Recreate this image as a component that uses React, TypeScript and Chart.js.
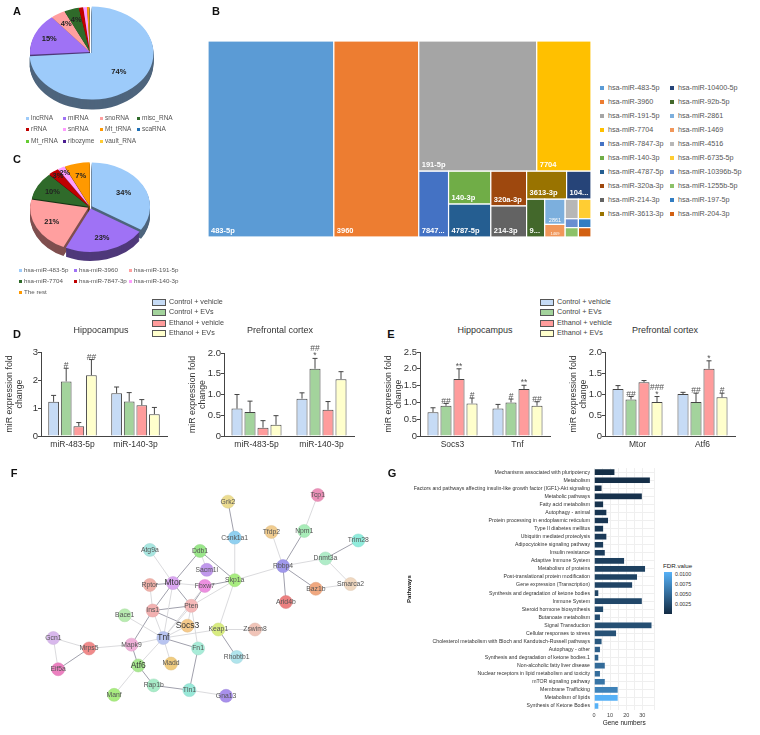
import React, { useEffect, useRef } from "react";
import { Chart, registerables } from "chart.js";
Chart.register(...registerables);

const FONT = "'Liberation Sans', Arial, sans-serif";

// ---- Panel A ----
const rnaTypes = ["lncRNA","miRNA","snoRNA","misc_RNA","rRNA","snRNA","Mt_tRNA","scaRNA","Mt_rRNA","ribozyme","vault_RNA"];
const rnaShares = [74,15,4,4,1.2,1,0.6,0.05,0.05,0.05,0.05];
const rnaColors = ["#9DCBFA","#9F72F5","#FF9F9F","#2F6A2A","#C00000","#FF9CFF","#FF9900","#1F6FB4","#66CC33","#4B1D91","#FFCC33"];
const rnaOffsets = [8,0,0,0,0,0,0,0,0,0,0];
// ---- Panel C ----
const mirTop = ["hsa-miR-483-5p","hsa-miR-3960","hsa-miR-191-5p","hsa-miR-7704","hsa-miR-7847-3p","hsa-miR-140-3p","The rest"];
const mirTopShares = [34,23,21,10,3,2,7];
const mirTopColors = ["#9DCBFA","#9F72F5","#FF9F9F","#2F6A2A","#C00000","#FF9CFF","#FF9900"];
const mirTopOffsets = [8,8,8,4,4,4,4];
// ---- Panel B ----
const treeNames = ["hsa-miR-483-5p","hsa-miR-3960","hsa-miR-191-5p","hsa-miR-7704","hsa-miR-7847-3p","hsa-miR-140-3p","hsa-miR-4787-5p","hsa-miR-320a-3p","hsa-miR-214-3p","hsa-miR-3613-3p","hsa-miR-10400-5p","hsa-miR-92b-5p","hsa-miR-2861","hsa-miR-1469","hsa-miR-4516","hsa-miR-6735-5p","hsa-miR-10396b-5p","hsa-miR-1255b-5p","hsa-miR-197-5p","hsa-miR-204-3p"];
const treeShort = ["483-5p","3960","191-5p","7704","7847...","140-3p","4787-5p","320a-3p","214-3p","3613-3p","104...","9...","2861","1469","","","","","",""];
const treeValues = [220,148.4,137,63,17.5,12.4,12.4,11.1,9.9,10,6.1,6.1,4.6,2.3,2.3,2.2,1.05,1.1,1,1.05];
const treeColors = ["#5B9BD5","#ED7D31","#A5A5A5","#FFC000","#4472C4","#70AD47","#255E91","#9E480E","#636363","#997300","#264478","#43682B","#7CAFDD","#F1975A","#B7B7B7","#FFCD33","#698ED0","#8CC168","#327DC2","#D26012"];
const treeSplits: any = ["h",0,1,["v",["h",2,3],["h",4,["v",5,6],["v",7,8],["v",["h",9,10],["h",11,["v",12,13],["v",["h",14,15],["h",16,18],["h",17,19]]]]]]];
// ---- Panels D, E ----
const groupNames = ["Control + vehicle","Control + EVs","Ethanol + vehicle","Ethanol + EVs"];
const groupColors = ["#C6DBF5","#A3D39C","#FF9C9C","#FFFFCC"];
const dHipCats = ["miR-483-5p","miR-140-3p"];
const dHipMeans = [[1.22,1.53],[1.95,1.23],[0.35,1.1],[2.17,0.78]];
const dHipTops = [[1.45,1.75],[2.42,1.55],[0.48,1.3],[2.73,1.02]];
const dHipSig = [[[],[]],[["#"],[]],[[],[]],[["##"],[]]];
const dPfcCats = ["miR-483-5p","miR-140-3p"];
const dPfcMeans = [[0.66,0.9],[0.58,1.62],[0.2,0.63],[0.27,1.37]];
const dPfcTops = [[1.0,1.04],[0.84,1.87],[0.37,0.83],[0.49,1.55]];
const dPfcSig = [[[],[]],[[],["##","*"]],[[],[]],[[],[]]];
const eHipCats = ["Socs3","Tnf"];
const eHipMeans = [[0.71,0.82],[0.9,1.0],[1.7,1.4],[0.97,0.9]];
const eHipTops = [[0.84,0.94],[0.97,1.1],[2.0,1.51],[1.13,1.02]];
const eHipSig = [[[],[]],[["##"],["#"]],[["**"],["**"]],[["#"],["##"]]];
const ePfcCats = ["Mtor","Atf6"];
const ePfcMeans = [[1.12,1.0],[0.87,0.81],[1.28,1.6],[0.81,0.92]];
const ePfcTops = [[1.2,1.04],[0.94,1.02],[1.32,1.79],[0.94,1.02]];
const ePfcSig = [[[],[]],[["##"],["##"]],[[],["*"]],[["###","*"],["#"]]];
// ---- Panel F ----
const nodeNames = ["Atg9a","Ddb1","Mtor","Rptor","Ins1","Pten","Socs3","Bace1","Tnf","Fn1","Mapk9","Mrps5","Gcn1","Eif5a","Atf6","Madd","Rap1b","Tln1","Manf","Gna13","Sacm1l","Fbxw7","Skp1a","Csnk1a1","Grk2","Keap1","Zswim8","Rhobtb1","Rbbp4","Tfdp2","Npm1","Tcp1","Dnmt3a","Trim28","Smarca2","Baz1b","Arid4b"];
const nodeX = [148,200,172,148,151,191,187,122,162,198,129,85,48,53,136,170,152,189,111,227,207,205,236,236,229,219,257,238,286,274,308,322,330,364,356,320,289];
const nodeY = [547,548,582,584,611,606,627,616,640,651,647,651,640,673,669,667,690,695,700,701,568,585,579,534,496,631,631,660,564,528,527,489,556,537,583,588,602];
const nodeColors = ["#A8E6E0","#9AE68A","#D9A6F0","#F0B0A8","#F2B0B0","#F5B8B8","#F5C98A","#B8ECB0","#B8C4F0","#A8ECD8","#EFB0D8","#F08A8A","#D8B8EC","#EC80C0","#A8E890","#F0CC80","#A8ECC8","#98E8D8","#A8EC80","#A890EC","#C098EC","#EC90E0","#A8EC80","#90D0F0","#ECDC90","#D8EC80","#F0C4B8","#B0E4EC","#A098EC","#F0CC90","#A8ECB8","#EC90B8","#B0ECC8","#90ECDC","#F0D8C0","#F0A880","#EC8080"];
const bigNodes = ["Mtor","Tnf","Atf6","Socs3"];
const lightEdges = [["Atg9a","Mtor"],["Ddb1","Sacm1l"],["Mtor","Tnf"],["Mtor","Fbxw7"],["Rptor","Ins1"],["Ins1","Tnf"],["Pten","Tnf"],["Pten","Socs3"],["Pten","Skp1a"],["Pten","Fn1"],["Socs3","Tnf"],["Bace1","Tnf"],["Tnf","Mapk9"],["Tnf","Atf6"],["Tnf","Madd"],["Tnf","Keap1"],["Tnf","Fbxw7"],["Mapk9","Mrps5"],["Mrps5","Gcn1"],["Gcn1","Eif5a"],["Atf6","Manf"],["Tln1","Gna13"],["Keap1","Skp1a"],["Keap1","Zswim8"],["Skp1a","Csnk1a1"],["Skp1a","Rbbp4"],["Rbbp4","Tfdp2"],["Npm1","Tcp1"],["Rbbp4","Dnmt3a"],["Dnmt3a","Smarca2"],["Baz1b","Smarca2"]];
const darkEdges = [["Ddb1","Mtor"],["Ddb1","Skp1a"],["Mtor","Rptor"],["Mtor","Ins1"],["Mtor","Pten"],["Ins1","Pten"],["Ins1","Socs3"],["Ins1","Mapk9"],["Pten","Fbxw7"],["Tnf","Fn1"],["Mapk9","Atf6"],["Mrps5","Eif5a"],["Atf6","Rap1b"],["Rap1b","Tln1"],["Tln1","Fn1"],["Keap1","Rhobtb1"],["Skp1a","Fbxw7"],["Csnk1a1","Grk2"],["Rbbp4","Npm1"],["Dnmt3a","Trim28"],["Rbbp4","Baz1b"],["Rbbp4","Arid4b"]];
// ---- Panel G ----
const pathways = ["Mechanisms associated with pluripotency","Metabolism","Factors and pathways affecting insulin-like growth factor (IGF1)-Akt signaling","Metabolic pathways","Fatty acid metabolism","Autophagy - animal","Protein processing in endoplasmic reticulum","Type II diabetes mellitus","Ubiquitin mediated proteolysis","Adipocytokine signaling pathway","Insulin resistance","Adaptive Immune System","Metabolism of proteins","Post-translational protein modification","Gene expression (Transcription)","Synthesis and degradation of ketone bodies","Immune System","Steroid hormone biosynthesis","Butanoate metabolism","Signal Transduction","Cellular responses to stress","Cholesterol metabolism with Bloch and Kandutsch-Russell pathways","Autophagy - other","Synthesis and degradation of ketone bodies.1","Non-alcoholic fatty liver disease","Nuclear receptors in lipid metabolism and toxicity","mTOR signaling pathway","Membrane Trafficking","Metabolism of lipids","Synthesis of Ketone Bodies"];
const geneNumbers = [13,35,5,30,6,8,9,6,8,6,7,19,32,27,24,3,30,6,4,36,14,5,4,3,7,4,7,15,15,3];
const fdrValues = [0.0002,0.0003,0.0004,0.0005,0.0006,0.0008,0.0009,0.001,0.0012,0.0014,0.0015,0.0016,0.0017,0.0018,0.0019,0.002,0.0022,0.0024,0.0026,0.0028,0.003,0.0035,0.004,0.0042,0.005,0.0052,0.0058,0.0068,0.0105,0.0105];
const fdrLegendLabels = ["0.0100","0.0075","0.0050","0.0025"];

const fdrColor = (v: number) => {
  const t = Math.min(1, v / 0.0105);
  const a = [19, 43, 67], b = [86, 177, 247];
  return `rgb(${a.map((c, i) => Math.round(c + (b[i] - c) * t)).join(",")})`;
};
const darken = (hex: string, f: number) => {
  const n = parseInt(hex.slice(1), 16);
  return `rgb(${(n >> 16) * f | 0},${((n >> 8) & 255) * f | 0},${(n & 255) * f | 0})`;
};

// pie drawn as a tilted disc with a rim, using the arc elements the library laid out
const pie3d = (k: number, depth: number, ratio: (v: number) => number) => ({
  id: "pie3d",
  beforeDatasetDraw(chart: any) {
    const ctx = chart.ctx;
    const arcs = chart.getDatasetMeta(0).data;
    const cx = arcs[0].x, cy = arcs[0].y;
    const paint = (dy: number, side: boolean) => {
      ctx.save();
      ctx.translate(cx, cy + dy);
      ctx.scale(1, k);
      ctx.translate(-cx, -cy);
      arcs.forEach((a: any) => {
        const o = a.options;
        const fill = side ? darken(o.backgroundColor, 0.5) : o.backgroundColor;
        a.options = Object.create(o, { backgroundColor: { value: fill }, borderWidth: { value: 0 } });
        a.draw(ctx);
        a.options = o;
      });
      ctx.restore();
    };
    for (let d = depth; d > 0; d--) paint(d, true);
    paint(0, false);
    return false;
  },
  afterDatasetsDraw(chart: any) {
    const ctx = chart.ctx;
    const ds = chart.data.datasets[0];
    ctx.font = `bold 7.5px ${FONT}`;
    ctx.fillStyle = "#222";
    ctx.textAlign = "center";
    ctx.textBaseline = "middle";
    chart.getDatasetMeta(0).data.forEach((a: any, i: number) => {
      const v = ds.data[i];
      if (v < 2) return;
      const mid = (a.startAngle + a.endAngle) / 2;
      const r = a.outerRadius * ratio(v);
      ctx.fillText(`${Math.round(v)}%`, a.x + Math.cos(mid) * r, a.y + Math.sin(mid) * r * k);
    });
  },
});

const pieConfig = (labels: string[], data: number[], colors: string[], offsets: number[], radius: number, k: number, depth: number) => ({
  type: "pie",
  data: { labels, datasets: [{ data, backgroundColor: colors, offset: offsets, borderWidth: 0 }] },
  options: {
    responsive: false, animation: false, radius,
    plugins: { legend: { display: false }, tooltip: { enabled: false } },
  },
  plugins: [pie3d(k, depth, (v) => (v > 30 ? 0.66 : v > 3 ? 0.74 : 0.9))],
});

// treemap layout worked out from the values alone
type Rect = { i: number; x0: number; x1: number; y0: number; y1: number };
const sumNode = (n: any): number => (typeof n === "number" ? treeValues[n] : n.slice(1).reduce((s: number, c: any) => s + sumNode(c), 0));
const layoutTree = (n: any, x0: number, x1: number, y0: number, y1: number, out: Rect[]) => {
  if (typeof n === "number") { out.push({ i: n, x0, x1, y0, y1 }); return out; }
  const total = sumNode(n);
  let pos = n[0] === "h" ? x0 : y0;
  n.slice(1).forEach((c: any) => {
    const share = sumNode(c) / total;
    if (n[0] === "h") { const w = (x1 - x0) * share; layoutTree(c, pos, pos + w, y0, y1, out); pos += w; }
    else { const h = (y1 - y0) * share; layoutTree(c, x0, x1, pos, pos + h, out); pos += h; }
  });
  return out;
};
const treemapConfig = () => {
  const rects = layoutTree(treeSplits, 0, 1, 0, 1, []);
  return {
    type: "scatter",
    data: { datasets: [{ data: rects.map((r) => ({ x: r.x0, y: r.y0 })), pointRadius: 0 }] },
    options: {
      responsive: false, animation: false,
      layout: { padding: { left: 8, right: 9, top: 11, bottom: 8 } },
      scales: { x: { display: false, min: 0, max: 1 }, y: { display: false, min: 0, max: 1, reverse: true } },
      plugins: { legend: { display: false }, tooltip: { enabled: false } },
    },
    plugins: [{
      id: "treemap",
      afterDatasetsDraw(chart: any) {
        const { ctx, scales: { x, y } } = chart;
        ctx.save();
        rects.forEach((r) => {
          const px0 = x.getPixelForValue(r.x0), px1 = x.getPixelForValue(r.x1);
          const py0 = y.getPixelForValue(r.y0), py1 = y.getPixelForValue(r.y1);
          ctx.fillStyle = treeColors[r.i];
          ctx.fillRect(px0, py0, px1 - px0, py1 - py0);
          ctx.strokeStyle = "#fff";
          ctx.lineWidth = 1.2;
          ctx.strokeRect(px0, py0, px1 - px0, py1 - py0);
          const t = treeShort[r.i];
          if (!t) return;
          const small = r.i >= 12;
          ctx.font = small ? `${r.i === 13 ? 4 : 5.5}px ${FONT}` : `bold 7.5px ${FONT}`;
          ctx.fillStyle = "#fff";
          ctx.textBaseline = "alphabetic";
          ctx.textAlign = small ? "center" : "left";
          if (small) ctx.fillText(t, (px0 + px1) / 2, py1 - 2.5);
          else ctx.fillText(t, px0 + 3, py1 - 4);
        });
        ctx.restore();
      },
    }],
  };
};

const errorPlugin = (tops: number[][], sig: string[][][]) => ({
  id: "errorBars",
  afterDatasetsDraw(chart: any) {
    const { ctx, scales: { y } } = chart;
    ctx.save();
    chart.data.datasets.forEach((_: any, s: number) => {
      chart.getDatasetMeta(s).data.forEach((bar: any, i: number) => {
        const top = y.getPixelForValue(tops[s][i]);
        ctx.strokeStyle = "#444";
        ctx.lineWidth = 1;
        ctx.beginPath();
        ctx.moveTo(bar.x, bar.y);
        ctx.lineTo(bar.x, top);
        ctx.moveTo(bar.x - 2.5, top);
        ctx.lineTo(bar.x + 2.5, top);
        ctx.stroke();
        ctx.fillStyle = "#555";
        ctx.font = `8.5px ${FONT}`;
        ctx.textAlign = "center";
        ctx.textBaseline = "bottom";
        const lines = sig[s][i];
        lines.forEach((t, l) => {
          const up = lines.length - 1 - l;
          ctx.fillText(t, bar.x, top + 2 - up * 7);
        });
      });
    });
    ctx.restore();
  },
});

const barConfig = (cats: string[], means: number[][], tops: number[][], sig: any, max: number, step: number, decimals: number, axisTop: number) => ({
  type: "bar",
  data: {
    labels: cats,
    datasets: groupNames.map((label, s) => ({
      label, data: means[s], backgroundColor: groupColors[s], borderColor: "#444", borderWidth: 1,
      categoryPercentage: 0.8, barPercentage: 0.85,
    })),
  },
  options: {
    responsive: false, animation: false,
    layout: { padding: { top: axisTop, right: 4, left: 0, bottom: 0 } },
    scales: {
      x: {
        grid: { display: false, drawTicks: false }, border: { color: "#444" },
        ticks: { color: "#333", font: { size: 8.5, family: FONT }, padding: 4, maxRotation: 0 },
        afterFit: (s: any) => { s.height = 20; },
      },
      y: {
        min: 0, max,
        grid: { drawOnChartArea: false, tickLength: 3, color: "#444" }, border: { color: "#444" },
        ticks: {
          stepSize: step, color: "#333", font: { size: 9.5, family: FONT }, padding: 0,
          callback: (v: number) => (v === 0 ? "0" : v.toFixed(decimals)),
        },
        title: { display: true, text: ["miR expression fold", "change"], color: "#333", font: { size: 8.8, family: FONT, lineHeight: 1.2 }, padding: { top: 3, bottom: 0 } },
        afterFit: (s: any) => { s.width = 40; },
      },
    },
    plugins: { legend: { display: false }, tooltip: { enabled: false } },
  },
  plugins: [errorPlugin(tops, sig)],
});

const networkConfig = () => {
  const at = (name: string) => { const i = nodeNames.indexOf(name); return { x: nodeX[i], y: nodeY[i] }; };
  const edge = (e: string[], color: string, borderWidth: number) => ({
    type: "scatter", data: [at(e[0]), at(e[1])], showLine: true, pointRadius: 0, borderColor: color, borderWidth, order: 2,
  });
  return {
    type: "scatter",
    data: {
      datasets: [
        { data: nodeX.map((x, i) => ({ x, y: nodeY[i] })), pointRadius: 6.5, backgroundColor: nodeColors, borderColor: nodeColors.map((c) => darken(c, 0.93)), borderWidth: 0.5, order: 0 },
        ...lightEdges.map((e) => edge(e, "#D6D6D9", 0.9)),
        ...darkEdges.map((e) => edge(e, "#A0A0AC", 1)),
      ],
    },
    options: {
      responsive: false, animation: false,
      scales: { x: { display: false, min: 0, max: 400 }, y: { display: false, min: 470, max: 735, reverse: true } },
      plugins: { legend: { display: false }, tooltip: { enabled: false } },
    },
    plugins: [{
      id: "nodeLabels",
      afterDatasetsDraw(chart: any) {
        const ctx = chart.ctx;
        const pts = chart.getDatasetMeta(0).data;
        ctx.save();
        ctx.textAlign = "center";
        ctx.textBaseline = "middle";
        pts.forEach((p: any, i: number) => {
          const big = bigNodes.includes(nodeNames[i]);
          ctx.fillStyle = big ? "#333" : "#555";
          ctx.font = `${big ? 8.5 : 6.8}px ${FONT}`;
          ctx.fillText(nodeNames[i], p.x, p.y);
        });
        ctx.restore();
      },
    }],
  };
};

const pathwayConfig = () => ({
  type: "bar",
  data: {
    labels: pathways,
    datasets: [{ data: geneNumbers, backgroundColor: fdrValues.map(fdrColor), borderColor: "rgba(230,236,245,0.7)", borderWidth: 0.5, categoryPercentage: 1, barPercentage: 0.82 }],
  },
  options: {
    indexAxis: "y", responsive: false, animation: false,
    layout: { padding: { top: 2.5, right: 5.6, left: 0, bottom: 0 } },
    scales: {
      x: {
        min: 0, max: 37.5,
        grid: { color: "#EFEFEF", drawTicks: false }, border: { display: false },
        ticks: { stepSize: 5, color: "#444", font: { size: 5.5, family: FONT }, padding: 2, maxRotation: 0, autoSkip: false, callback: (v: number) => (v % 10 === 0 ? String(v) : "") },
        title: { display: true, text: "Gene numbers", color: "#222", font: { size: 6.5, family: FONT }, padding: 0 },
        afterFit: (s: any) => { s.height = 17; },
      },
      y: {
        grid: { color: "#EFEFEF", offset: false, drawTicks: false }, border: { display: false },
        ticks: { autoSkip: false, color: "#333", font: { size: 5.2, family: FONT }, padding: 4 },
        title: { display: true, text: "Pathways", color: "#111", font: { size: 6, weight: "bold", family: FONT }, padding: { top: 1, bottom: 0 } },
        afterFit: (s: any) => { s.width = 189; },
      },
    },
    plugins: { legend: { display: false }, tooltip: { enabled: false } },
  },
});

function Panel({ left, top, width, height, make }: any) {
  const ref = useRef<HTMLCanvasElement>(null);
  useEffect(() => {
    const chart = new Chart(ref.current as any, make());
    return () => chart.destroy();
  }, []);
  return <canvas ref={ref} width={width} height={height} style={{ position: "absolute", left, top, width, height, display: "block" }} />;
}

const Text = ({ x, y, size = 7, color = "#555", bold = false, center = false, children, family }: any) => (
  <div style={{ position: "absolute", left: x, top: y, fontSize: size, color, fontWeight: bold ? 700 : 400, lineHeight: 1, whiteSpace: "nowrap", fontFamily: family || FONT, transform: center ? "translate(-50%,-50%)" : "translateY(-50%)" }}>{children}</div>
);
const Swatch = ({ x, y, w, h, color, border }: any) => (
  <div style={{ position: "absolute", left: x, top: y - h / 2, width: w, height: h, background: color, border: border ? "1px solid #555" : undefined, boxSizing: "border-box" }} />
);
const DotLegend = ({ items, colors, xs, ys, size = 7, gap = 4, cols }: any) => (
  <>
    {items.map((t: string, i: number) => {
      const c = i % cols, r = Math.floor(i / cols);
      return (
        <React.Fragment key={t}>
          <Swatch x={xs[c] - 1.5} y={ys[r]} w={3} h={3} color={colors[i]} />
          <Text x={xs[c] + gap} y={ys[r]} size={size}>{t}</Text>
        </React.Fragment>
      );
    })}
  </>
);
const GroupLegend = ({ x }: any) => (
  <>
    {groupNames.map((t, i) => {
      const y = [302, 312, 323, 333][i];
      return (
        <React.Fragment key={t}>
          <Swatch x={x} y={y} w={14} h={7} color={groupColors[i]} border />
          <Text x={x + 17} y={y} size={7.2} color="#444">{t}</Text>
        </React.Fragment>
      );
    })}
  </>
);
const Letter = ({ x, y, children }: any) => <Text x={x} y={y} size={11} bold center color="#111">{children}</Text>;

export default function App() {
  const treeRows = treeNames.map((_, i) => 88 + (i % 10) * 14);
  return (
    <div style={{ position: "absolute", left: 0, top: 0, width: 760, height: 735, overflow: "hidden", background: "#fff", fontFamily: FONT }}>
      <Panel left={15} top={-23} width={150} height={150} make={() => pieConfig(rnaTypes, rnaShares, rnaColors, rnaOffsets, 60, 0.75, 10)} />
      <Panel left={15} top={132} width={150} height={150} make={() => pieConfig(mirTop, mirTopShares, mirTopColors, mirTopOffsets, 58, 0.75, 9)} />
      <Panel left={200} top={30} width={400} height={215} make={treemapConfig} />
      <Panel left={1} top={340} width={170} height={116} make={() => barConfig(dHipCats, dHipMeans, dHipTops, dHipSig, 3, 1, 0, 12)} />
      <Panel left={184} top={340} width={174} height={116} make={() => barConfig(dPfcCats, dPfcMeans, dPfcTops, dPfcSig, 2, 0.5, 1, 13)} />
      <Panel left={380} top={340} width={174} height={116} make={() => barConfig(eHipCats, eHipMeans, eHipTops, eHipSig, 2.5, 0.5, 1, 12)} />
      <Panel left={565} top={340} width={174} height={116} make={() => barConfig(ePfcCats, ePfcMeans, ePfcTops, ePfcSig, 2, 0.5, 1, 12)} />
      <Panel left={0} top={470} width={400} height={265} make={networkConfig} />
      <Panel left={405} top={461} width={255} height={266} make={pathwayConfig} />

      <Letter x={17} y={11}>A</Letter>
      <Letter x={216} y={11}>B</Letter>
      <Letter x={17} y={159}>C</Letter>
      <Letter x={17} y={334}>D</Letter>
      <Letter x={391} y={334}>E</Letter>
      <Letter x={14} y={473}>F</Letter>
      <Letter x={392} y={473}>G</Letter>

      <DotLegend items={rnaTypes} colors={rnaColors} cols={4} xs={[27, 64, 101, 138]} ys={[118, 129, 141]} size={6.5} />
      <DotLegend items={mirTop} colors={mirTopColors} cols={3} xs={[20, 75, 130]} ys={[270, 281, 292]} size={6.2} />

      {treeNames.map((t, i) => {
        const x = i < 10 ? 600 : 670;
        return (
          <React.Fragment key={t}>
            <Swatch x={x} y={treeRows[i]} w={4} h={4} color={treeColors[i]} />
            <Text x={x + 8} y={treeRows[i]} size={7.2}>{t}</Text>
          </React.Fragment>
        );
      })}

      <GroupLegend x={152} />
      <GroupLegend x={540} />
      <Text x={101} y={330} size={9} center color="#333">Hippocampus</Text>
      <Text x={280} y={330} size={9} center color="#333">Prefrontal cortex</Text>
      <Text x={485} y={330} size={9} center color="#333">Hippocampus</Text>
      <Text x={665} y={330} size={9} center color="#333">Prefrontal cortex</Text>

      <Text x={663} y={566} size={6.2} color="#222">FDR.value</Text>
      <div style={{ position: "absolute", left: 664, top: 572, width: 8, height: 42, background: "linear-gradient(to bottom,#56B1F7,#132B43)" }} />
      {fdrLegendLabels.map((t, i) => (
        <Text key={t} x={675} y={575 + i * 10} size={5.3} color="#333">{t}</Text>
      ))}
    </div>
  );
}
